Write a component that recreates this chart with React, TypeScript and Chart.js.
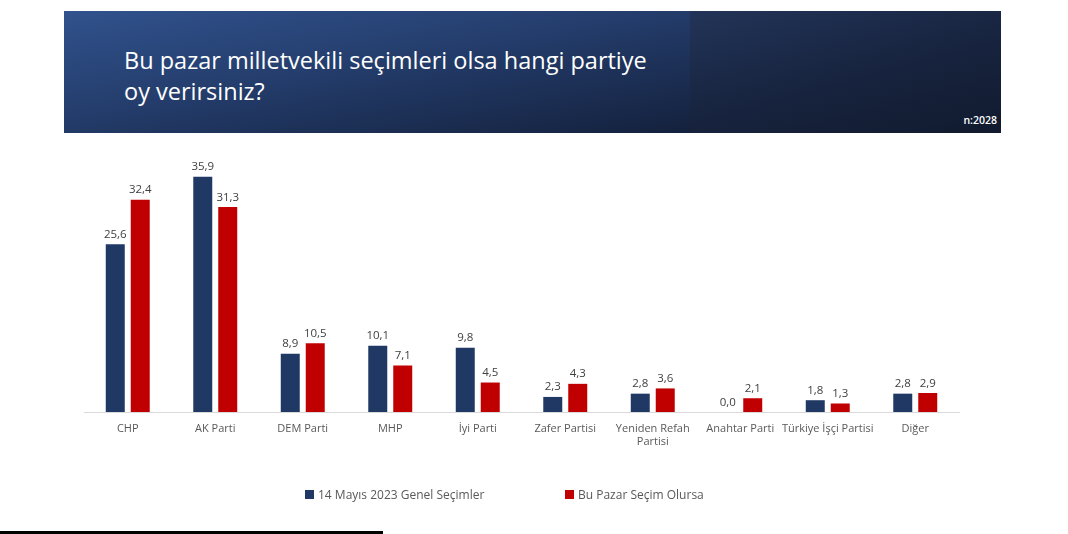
import React, { useEffect, useRef } from "react";
import { Chart, registerables } from "chart.js";

Chart.register(...registerables);

const categories: (string | string[])[] = [
  "CHP",
  "AK Parti",
  "DEM Parti",
  "MHP",
  "İyi Parti",
  "Zafer Partisi",
  ["Yeniden Refah", "Partisi"],
  "Anahtar Parti",
  "Türkiye İşçi Partisi",
  "Diğer",
];
const series2023 = [25.6, 35.9, 8.9, 10.1, 9.8, 2.3, 2.8, 0.0, 1.8, 2.8];
const seriesNow = [32.4, 31.3, 10.5, 7.1, 4.5, 4.3, 3.6, 2.1, 1.3, 2.9];
const seriesNames = ["14 Mayıs 2023 Genel Seçimler", "Bu Pazar Seçim Olursa"];
const colors = ["#1f3864", "#c00000"];

const FONT = "'Open Sans', 'Noto Sans', sans-serif";

const valueLabels = {
  id: "valueLabels",
  afterDatasetsDraw(chart: any) {
    const ctx = chart.ctx;
    ctx.save();
    ctx.font = `11.5px ${FONT}`;
    ctx.fillStyle = "#404040";
    ctx.textAlign = "center";
    ctx.textBaseline = "bottom";
    chart.data.datasets.forEach((ds: any, i: number) => {
      const meta = chart.getDatasetMeta(i);
      meta.data.forEach((bar: any, j: number) => {
        const v = ds.data[j] as number;
        ctx.fillText(v.toFixed(1).replace(".", ","), bar.x, bar.y - 4);
      });
    });
    ctx.restore();
  },
};

export default function App() {
  const ref = useRef<HTMLCanvasElement | null>(null);
  useEffect(() => {
    if (!ref.current) return;
    const chart = new Chart(ref.current, {
      type: "bar",
      data: {
        labels: categories,
        datasets: [
          {
            label: seriesNames[0],
            data: series2023,
            backgroundColor: colors[0],
            categoryPercentage: 0.571,
            barPercentage: 0.76,
          },
          {
            label: seriesNames[1],
            data: seriesNow,
            backgroundColor: colors[1],
            categoryPercentage: 0.571,
            barPercentage: 0.76,
          },
        ],
      },
      options: {
        animation: false,
        responsive: false,
        layout: { padding: { top: 150, left: 84, right: 109, bottom: 0 } },
        plugins: { legend: { display: false }, tooltip: { enabled: false } },
        scales: {
          y: { display: false, min: 0, max: 40 },
          x: {
            grid: { display: false, drawTicks: false },
            border: { color: "#d9d9d9", width: 1 },
            ticks: {
              color: "#595959",
              font: { family: FONT, size: 11 },
              padding: 10,
              maxRotation: 0,
              autoSkip: false,
            },
            afterFit(scale: any) {
              scale.height = 122;
            },
          },
        },
      },
      plugins: [valueLabels],
    });
    return () => chart.destroy();
  }, []);

  return (
    <div style={{ position: "absolute", left: 0, top: 0, width: 1068, height: 534, background: "#fff", overflow: "hidden", fontFamily: FONT }}>
      <canvas ref={ref} width={1068} height={534} style={{ position: "absolute", left: 0, top: 0 }} />
      <div style={{ position: "absolute", left: 64, top: 11, width: 626, height: 122, background: "linear-gradient(170deg, #31528d 0%, #243d6c 45%, #14213d 100%)" }} />
      <div style={{ position: "absolute", left: 690, top: 11, width: 311, height: 122, background: "linear-gradient(165deg, #223458 0%, #17233e 55%, #111a2e 100%)" }} />
      <div style={{ position: "absolute", left: 124, top: 45, color: "#fff", fontSize: 23.5, lineHeight: "31px", whiteSpace: "nowrap" }}>
        Bu pazar milletvekili seçimleri olsa hangi partiye
        <br />
        oy verirsiniz?
      </div>
      <div style={{ position: "absolute", right: 1068 - 997, top: 113, color: "#fff", fontSize: 10.5, fontWeight: 600 }}>n:2028</div>
      <div style={{ position: "absolute", left: 305, top: 486, display: "flex", alignItems: "center", color: "#595959", fontSize: 12 }}>
        <span style={{ width: 9, height: 9, background: colors[0], display: "inline-block", marginRight: 4 }} />
        {seriesNames[0]}
      </div>
      <div style={{ position: "absolute", left: 565, top: 486, display: "flex", alignItems: "center", color: "#595959", fontSize: 12 }}>
        <span style={{ width: 9, height: 9, background: colors[1], display: "inline-block", marginRight: 4 }} />
        {seriesNames[1]}
      </div>
      <div style={{ position: "absolute", left: 0, top: 531, width: 383, height: 3, background: "#000" }} />
    </div>
  );
}
